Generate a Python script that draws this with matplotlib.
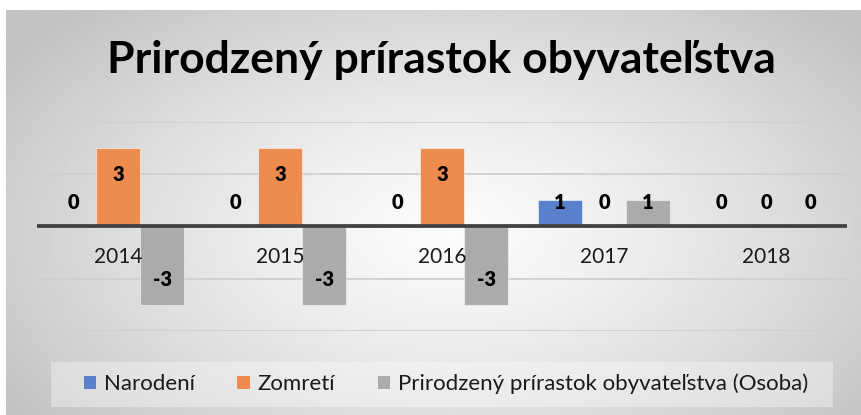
import numpy as np
import matplotlib
matplotlib.use("Agg")
import matplotlib.pyplot as plt
from matplotlib.patches import Rectangle, Patch

years = ['2014', '2015', '2016', '2017', '2018']
narodeni = [0, 0, 0, 1, 0]
zomreti = [3, 3, 3, 0, 0]
prirastok = [-3, -3, -3, 1, 0]
series_names = ['Narodení', 'Zomretí', 'Prirodzený prírastok obyvateľstva (Osoba)']
colors = ['#5A80CC', '#EE8B4E', '#ABABAB']
title = 'Prirodzený prírastok obyvateľstva'

W, H = 862, 415
fig = plt.figure(figsize=(W / 100, H / 100), dpi=100)
fig.patch.set_facecolor('white')

# background radial gradient (chart area from x=6, y=10)
bg = fig.add_axes([6 / W, 0, 1 - 6 / W, 1 - 10 / H], zorder=0)
bg.set_axis_off()
yy, xx = np.mgrid[0:1:300j, 0:1:600j]
r = np.sqrt(((xx - 0.52) / 0.62) ** 2 + ((yy - 0.55) / 0.75) ** 2)
r = np.clip(r, 0, 1)
val = 0.985 - 0.22 * r ** 1.3
bg.imshow(val, cmap='gray', vmin=0, vmax=1, aspect='auto', extent=[0, 1, 0, 1], interpolation='bilinear')
bg.set_xlim(0, 1)
bg.set_ylim(0, 1)

# legend box
fig.patches.append(Rectangle((51 / W, 1 - 407 / H), (833 - 51) / W, 45 / H,
                             transform=fig.transFigure, facecolor='white', alpha=0.35,
                             edgecolor='none', zorder=1))

ax = fig.add_axes([37 / W, 1 - 331 / H, (847 - 37) / W, (331 - 122) / H], zorder=2)
ax.patch.set_alpha(0)
x = np.arange(len(years))
bw = 0.268
series = [narodeni, zomreti, prirastok]
for i, (vals, c) in enumerate(zip(series, colors)):
    pos = x + (i - 1) * 0.272
    ax.bar(pos, vals, width=bw, color=c, edgecolor=(1, 1, 1, 0.5), linewidth=0.8, zorder=3)
    for p, v in zip(pos, vals):
        if v > 0:
            ly = max(v - 1.0, 0.92)
        elif v == 0:
            ly = 0.92
        else:
            ly = v + 0.98
        ax.text(p, ly, f'{v}', ha='center', va='center', fontsize=14.5, fontweight='heavy',
                family='Lato', color='black', zorder=5)

ax.set_xlim(-0.5, len(years) - 0.5)
ax.set_ylim(-4, 4)
ax.set_yticks([-4, -2, 2, 4])
ax.yaxis.grid(True, color='#CFCFCF', linewidth=1.3, zorder=0)
ax.tick_params(axis='y', left=False, labelleft=False)
ax.axhline(0, color='#404040', linewidth=2.7, zorder=4)
for s in ['top', 'right', 'left', 'bottom']:
    ax.spines[s].set_visible(False)
ax.set_xticks([])
for xi, yl in zip(x, years):
    ax.text(xi, -1.15, yl, ha='center', va='center', fontsize=15, family='Lato',
            color='#1a1a1a', zorder=6)

# title
t = fig.text(441 / W, 1 - 60 / H, title, ha='center', va='center', fontsize=32,
             fontweight='bold', family='Lato', color='black')

handles = [Patch(facecolor=c, edgecolor='none') for c in colors]
leg = fig.legend(handles, series_names, loc='center', bbox_to_anchor=(446 / W, 1 - 384 / H),
                 ncol=3, frameon=False, prop={'family': 'Lato', 'size': 16},
                 handlelength=0.55, handleheight=0.55, handletextpad=0.36, columnspacing=1.9)
for txt in leg.get_texts():
    txt.set_color('#1a1a1a')

fig.savefig('out.png', dpi=100)
